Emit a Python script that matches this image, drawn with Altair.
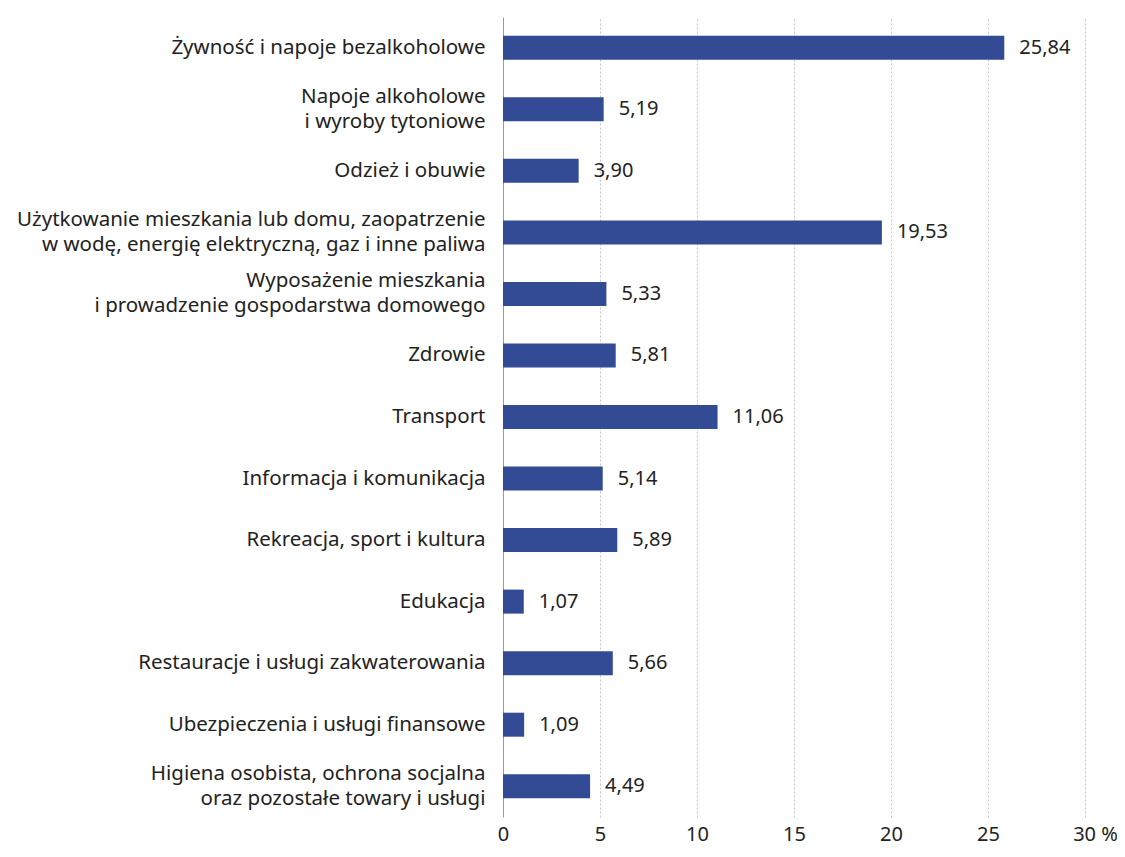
import altair as alt
import pandas as pd

categories = [
    "Żywność i napoje bezalkoholowe",
    "Napoje alkoholowe\ni wyroby tytoniowe",
    "Odzież i obuwie",
    "Użytkowanie mieszkania lub domu, zaopatrzenie\nw wodę, energię elektryczną, gaz i inne paliwa",
    "Wyposażenie mieszkania\ni prowadzenie gospodarstwa domowego",
    "Zdrowie",
    "Transport",
    "Informacja i komunikacja",
    "Rekreacja, sport i kultura",
    "Edukacja",
    "Restauracje i usługi zakwaterowania",
    "Ubezpieczenia i usługi finansowe",
    "Higiena osobista, ochrona socjalna\noraz pozostałe towary i usługi",
]
values = [25.84, 5.19, 3.90, 19.53, 5.33, 5.81, 11.06, 5.14, 5.89, 1.07, 5.66, 1.09, 4.49]
x_ticks = [0, 5, 10, 15, 20, 25, 30]

df = pd.DataFrame({"cat": categories, "val": values})
df["lab"] = [f"{v:.2f}".replace(".", ",") for v in values]

FONT = "Noto Sans"
TXT = "#222222"

y_enc = alt.Y(
    "cat:N",
    sort=categories,
    title=None,
    scale=alt.Scale(paddingInner=0.6, paddingOuter=0.3),
    axis=alt.Axis(
        labelExpr="split(datum.label, '\\n')",
        labelOffset=alt.ExprRef(expr="indexof(datum.value, '\\n') >= 0 ? -12.5 : 0"),
        labelFontSize=20.5,
        labelLineHeight=25,
        labelColor=TXT,
        labelPadding=18,
        labelLimit=600,
        ticks=False,
        domain=True,
        domainColor="#9a9a9a",
        domainWidth=1,
        grid=False,
    ),
)

x_enc = alt.X(
    "val:Q",
    title=None,
    scale=alt.Scale(domain=[0, 30], nice=False),
    axis=alt.Axis(
        values=x_ticks,
        labelExpr="datum.value == 30 ? '30 %' : datum.label",
        labelOffset=alt.ExprRef(expr="datum.value == 30 ? 10 : 0"),
        labelFontSize=20,
        labelColor=TXT,
        labelPadding=7,
        labelFlush=False,
        ticks=False,
        domain=False,
        grid=True,
        gridColor="#c4c4c4",
        gridDash=[2, 2],
        gridWidth=1,
        gridOpacity=alt.ExprRef(expr="datum.value == 0 ? 0 : 1"),
    ),
)

bars = alt.Chart(df).mark_bar(color="#334b94", size=24).encode(x=x_enc, y=y_enc)

texts = alt.Chart(df).mark_text(
    align="left", baseline="middle", dx=15, fontSize=20, color=TXT, font=FONT
).encode(x="val:Q", y=alt.Y("cat:N", sort=categories), text="lab:N")

chart = (
    alt.layer(bars, texts)
    .properties(
        width=582,
        height=800,
        autosize=alt.AutoSizeParams(type="none"),
        padding={"left": 495, "top": 9, "right": 32, "bottom": 32},
    )
    .configure(font=FONT)
    .configure_view(stroke=None)
)

chart.save("out.html", embed_options={"renderer": "svg", "actions": False})
